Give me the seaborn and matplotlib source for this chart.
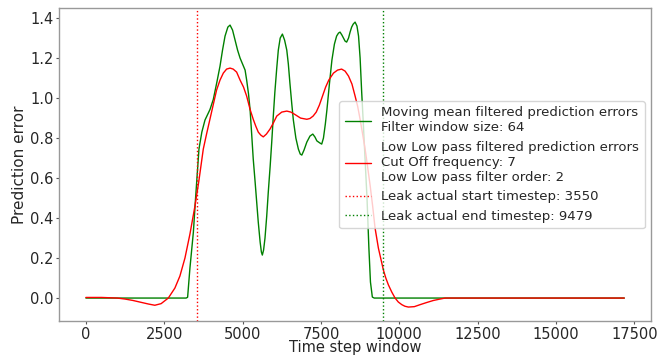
import matplotlib
matplotlib.use("Agg")
import matplotlib.pyplot as plt
import pandas as pd
import seaborn as sns

# Moving-mean filtered prediction error (window 64)
mm_t = [0, 1000, 2000, 3000, 3200, 3246, 3320, 3430, 3500, 3608, 3700, 3800,
        3960, 4065, 4180, 4280, 4360, 4440, 4530, 4600, 4680, 4760, 4840,
        4920, 5000, 5080, 5130, 5190, 5240, 5290, 5340, 5400, 5450, 5500,
        5560, 5600, 5630, 5670, 5715, 5770, 5820, 5880, 5930, 5980, 6030,
        6090, 6140, 6200, 6270, 6340, 6410, 6460, 6510, 6570, 6620, 6700,
        6780, 6840, 6890, 6960, 7050, 7150, 7240, 7310, 7370, 7470, 7525,
        7580, 7640, 7690, 7770, 7850, 7930, 8000, 8060, 8110, 8170, 8220,
        8270, 8320, 8380, 8430, 8480, 8530, 8590, 8650, 8700, 8750, 8800,
        8850, 8900, 8970, 9030, 9080, 9140, 9200, 10000, 12000, 14000, 16000,
        17180]
mm_err = [0.0, 0.0, 0.0, 0.0, 0.0, 0.004, 0.15, 0.33, 0.50, 0.745, 0.83,
          0.89, 0.943, 0.993, 1.08, 1.16, 1.24, 1.31, 1.355, 1.365, 1.34,
          1.29, 1.24, 1.20, 1.17, 1.14, 1.09, 1.02, 0.94, 0.82, 0.695, 0.58,
          0.48, 0.38, 0.28, 0.23, 0.215, 0.24, 0.30, 0.41, 0.53, 0.66, 0.78,
          0.91, 1.03, 1.15, 1.24, 1.30, 1.32, 1.29, 1.24, 1.17, 1.075, 0.97,
          0.89, 0.80, 0.745, 0.72, 0.715, 0.74, 0.78, 0.81, 0.82, 0.805,
          0.786, 0.775, 0.77, 0.80, 0.87, 0.94, 1.07, 1.19, 1.27, 1.31, 1.325,
          1.33, 1.315, 1.30, 1.285, 1.28, 1.30, 1.33, 1.355, 1.37, 1.38, 1.36,
          1.31, 1.20, 1.03, 0.88, 0.72, 0.50, 0.25, 0.08, 0.005, 0.0, 0.0, 0.0,
          0.0, 0.0, 0.0]

# Low-pass filtered prediction error (cut-off 7, order 2)
lp_t = [0, 500, 1000, 1250, 1500, 1750, 2000, 2200, 2400, 2630, 2840, 3000,
        3161, 3320, 3480, 3600, 3746, 3850, 4010, 4170, 4280, 4385, 4490,
        4600, 4700, 4810, 4920, 5030, 5130, 5240, 5340, 5420, 5500, 5580,
        5660, 5760, 5875, 5980, 6090, 6250, 6410, 6540, 6670, 6850, 7050,
        7150, 7250, 7350, 7450, 7550, 7650, 7750, 7900, 8030, 8160, 8270,
        8380, 8490, 8590, 8670, 8750, 8830, 8910, 8990, 9070, 9150, 9227,
        9333, 9420, 9493, 9570, 9652, 9760, 9866, 9970, 10080, 10180, 10290,
        10480, 10664, 10880, 11090, 11300, 11462, 12000, 13000, 14000, 15000,
        16000, 17180]
lp_err = [0.003, 0.003, 0.0, -0.005, -0.012, -0.021, -0.030, -0.036, -0.028,
          0.0, 0.05, 0.11, 0.20, 0.32, 0.46, 0.58, 0.745, 0.82, 0.93, 1.04,
          1.09, 1.125, 1.145, 1.15, 1.145, 1.13, 1.09, 1.055, 1.01, 0.943,
          0.894, 0.86, 0.83, 0.815, 0.806, 0.82, 0.845, 0.875, 0.91, 0.93,
          0.935, 0.93, 0.918, 0.90, 0.894, 0.898, 0.91, 0.93, 0.965, 1.01,
          1.055, 1.09, 1.125, 1.14, 1.145, 1.135, 1.11, 1.07, 1.01, 0.96,
          0.894, 0.82, 0.745, 0.655, 0.5625, 0.46, 0.35, 0.25, 0.19, 0.14,
          0.10, 0.066, 0.03, 0.0, -0.02, -0.033, -0.041, -0.045, -0.043,
          -0.033, -0.022, -0.012, -0.005, 0.0, 0.0, 0.0, 0.0, 0.0, 0.0, 0.0]

leak_start = 3550
leak_end = 9479
window_size = 64
cutoff = 7
order = 2

sns.set_style("white")
plt.rcParams["font.family"] = ["DejaVu Sans"]
plt.rcParams["font.size"] = 10.5

fig, ax = plt.subplots(figsize=(6.7, 3.57), dpi=100)
fig.subplots_adjust(left=0.088, right=0.972, bottom=0.1, top=0.978)

mm_df = pd.DataFrame({"t": mm_t, "err": mm_err})
lp_df = pd.DataFrame({"t": lp_t, "err": lp_err})

sns.lineplot(data=mm_df, x="t", y="err", ax=ax, color="green", lw=1.0,
             label=f"Moving mean filtered prediction errors\nFilter window size: {window_size}")
sns.lineplot(data=lp_df, x="t", y="err", ax=ax, color="red", lw=1.0,
             label=("Low Low pass filtered prediction errors\n"
                    f"Cut Off frequency: {cutoff}\nLow Low pass filter order: {order}"))
ax.axvline(leak_start, color="red", ls=":", lw=1.0,
           label=f"Leak actual start timestep: {leak_start}")
ax.axvline(leak_end, color="green", ls=":", lw=1.0,
           label=f"Leak actual end timestep: {leak_end}")

ax.set_xlabel("Time step window", fontsize=10.5, labelpad=-1)
ax.set_ylabel("Prediction error", fontsize=11, labelpad=2)
ax.set_xticks([0, 2500, 5000, 7500, 10000, 12500, 15000, 17500])
ax.set_yticks([0.0, 0.2, 0.4, 0.6, 0.8, 1.0, 1.2, 1.4])
ax.yaxis.set_major_formatter(matplotlib.ticker.FormatStrFormatter("%.1f"))
ax.tick_params(axis="both", which="major", length=2.5, width=0.8,
               color="#555555", labelsize=10.5, pad=1.5, bottom=True, left=True)
for sp in ax.spines.values():
    sp.set_color("#999999")
    sp.set_linewidth(1.0)

ax.legend(loc="center right", fontsize=9.5, framealpha=0.8,
          handlelength=2.0, borderaxespad=0.5)

fig.savefig("out.png", dpi=100)
